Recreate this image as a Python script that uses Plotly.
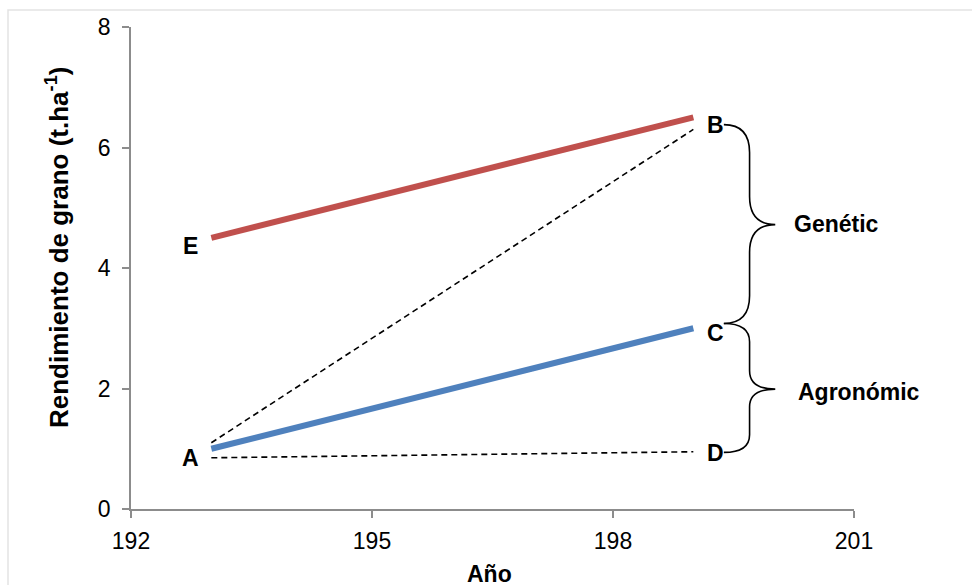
import plotly.graph_objects as go

# ---- data ----
years = [193, 199]
rend_E_B = [4.5, 6.5]          # red line E -> B
rend_A_C = [1.0, 3.0]          # blue line A -> C
dash_A_B = [1.1, 6.3]          # dashed A -> B
dash_A_D = [0.85, 0.95]        # dashed A -> D

x_ticks = [192, 195, 198, 201]
y_ticks = [0, 2, 4, 6, 8]

point_labels = ["A", "B", "C", "D", "E"]
label_x = [192.74, 199.27, 199.27, 199.27, 192.74]
label_y = [0.85, 6.38, 2.92, 0.93, 4.37]

brace_names = ["Genétic", "Agronómic"]
brace_top = [6.38, 3.08]
brace_tip = [4.72, 1.99]
brace_bot = [3.08, 0.94]
brace_label_x = [200.23, 200.28]
brace_label_y = [4.73, 1.95]

FONT = "Liberation Sans, Arial, sans-serif"
W, H = 972, 585
ML, MR, MT, MB = 131, 118, 27, 76
PW, PH = W - ML - MR, H - MT - MB


def px_to_paper(px, py):
    return (px - ML) / PW, (H - MB - py) / PH


fig = go.Figure()

fig.add_trace(go.Scatter(x=years, y=dash_A_B, mode="lines",
                         line=dict(color="black", width=1.6, dash="6px,4px")))
fig.add_trace(go.Scatter(x=years, y=dash_A_D, mode="lines",
                         line=dict(color="black", width=1.6, dash="6px,4px")))
fig.add_trace(go.Scatter(x=years, y=rend_E_B, mode="lines",
                         line=dict(color="#C0504D", width=6)))
fig.add_trace(go.Scatter(x=years, y=rend_A_C, mode="lines",
                         line=dict(color="#4F81BD", width=6)))

annotations = []
for t, xx, yy in zip(point_labels, label_x, label_y):
    annotations.append(dict(x=xx, y=yy, xref="x", yref="y", text=t, showarrow=False,
                            font=dict(family=FONT, size=23, color="black", weight="bold"),
                            xanchor="center", yanchor="middle"))
for t, xx, yy in zip(brace_names, brace_label_x, brace_label_y):
    annotations.append(dict(x=xx, y=yy, xref="x", yref="y", text=t, showarrow=False,
                            font=dict(family=FONT, size=23, color="black", weight="bold"),
                            xanchor="left", yanchor="middle"))

# axis titles
tx, ty = px_to_paper(57, 248)
annotations.append(dict(x=tx, y=ty, xref="paper", yref="paper",
                        text="Rendimiento de grano (t.ha<sup>-1</sup>)", textangle=-90,
                        showarrow=False, xanchor="center", yanchor="middle",
                        font=dict(family=FONT, size=26, color="black", weight="bold")))
ax_, ay_ = px_to_paper(489, 574)
annotations.append(dict(x=ax_, y=ay_, xref="paper", yref="paper", text="Año",
                        showarrow=False, xanchor="center", yanchor="middle",
                        font=dict(family=FONT, size=23, color="black", weight="bold")))

shapes = []
# braces
xl, xv, xt = 199.38, 199.70, 200.02
for yt, ym, yb in zip(brace_top, brace_tip, brace_bot):
    r1 = 0.28 * (yt - ym)
    r2 = 0.28 * (ym - yb)
    path = (f"M {xl},{yt} Q {xv},{yt} {xv},{yt - r1} L {xv},{ym + r1} "
            f"Q {xv},{ym} {xt},{ym} Q {xv},{ym} {xv},{ym - r2} "
            f"L {xv},{yb + r2} Q {xv},{yb} {xl},{yb}")
    shapes.append(dict(type="path", path=path, xref="x", yref="y",
                       line=dict(color="black", width=1.6)))

# faint outer border
bx0, by1 = px_to_paper(8, 10)
bx1, by0 = px_to_paper(990, 600)
shapes.append(dict(type="rect", xref="paper", yref="paper", x0=bx0, x1=bx1, y0=by0, y1=by1,
                   line=dict(color="#e3e3e3", width=1.5), layer="below"))

fig.update_layout(
    width=W, height=H,
    margin=dict(l=ML, r=MR, t=MT, b=MB, pad=0),
    paper_bgcolor="white", plot_bgcolor="white",
    showlegend=False,
    font=dict(family=FONT, color="black"),
    annotations=annotations,
    shapes=shapes,
    xaxis=dict(range=[192, 201], tickvals=x_ticks, ticktext=[str(v) for v in x_ticks],
               showgrid=False, zeroline=False, showline=True, linecolor="#8c8c8c", linewidth=1.5,
               ticks="outside", ticklen=7, tickwidth=1.5, tickcolor="#8c8c8c",
               tickfont=dict(family=FONT, size=23, color="black"), ticklabelstandoff=4),
    yaxis=dict(range=[0, 8], tickvals=y_ticks, ticktext=[str(v) for v in y_ticks],
               showgrid=False, zeroline=False, showline=True, linecolor="#8c8c8c", linewidth=1.5,
               ticks="outside", ticklen=7, tickwidth=1.5, tickcolor="#8c8c8c",
               tickfont=dict(family=FONT, size=23, color="black"), ticklabelstandoff=7),
)

fig.write_html("out.html")
